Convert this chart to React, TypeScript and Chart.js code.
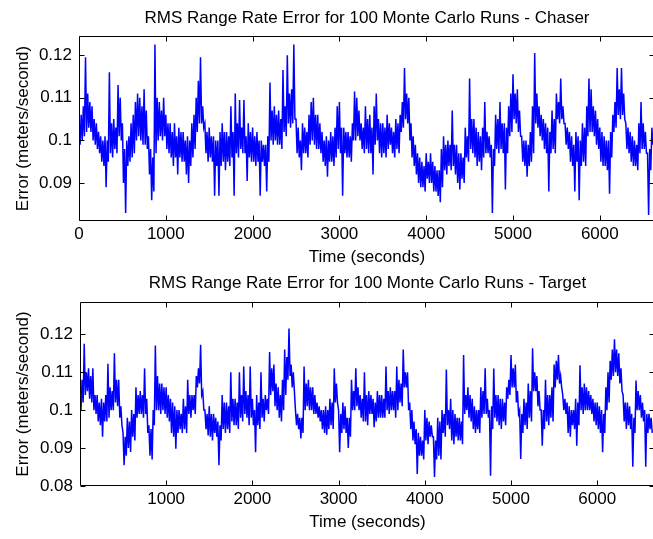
import React, { useEffect, useRef } from "react";
import { Chart, registerables } from "chart.js";

Chart.register(...registerables);

// The traces are dense noise; each 25 s bin is read as the upper and lower
// edge of the blue band (spikes included), starting at t = 0 s.
const BIN_STEP = 25;

const TITLE_TOP = "RMS Range Rate Error for 100 Monte Carlo Runs - Chaser";
const TITLE_BOTTOM = "RMS Range Rate Error for 100 Monte Carlo Runs - Target";
const X_LABEL = "Time (seconds)";
const Y_LABEL = "Error (meters/second)";

const XTICKS_TOP = [0, 1000, 2000, 3000, 4000, 5000, 6000];
const XTICKS_BOTTOM = [1000, 2000, 3000, 4000, 5000, 6000];
const YTICKS_TOP = [0.09, 0.1, 0.11, 0.12];
const YTICKS_BOTTOM = [0.08, 0.09, 0.1, 0.11, 0.12];

const CHASER_HIGH = [
  0.104, 0.106, 0.108, 0.1195, 0.111, 0.109, 0.108, 0.105, 0.104, 0.102,
  0.101, 0.1, 0.101, 0.1, 0.116, 0.104, 0.105, 0.103, 0.113, 0.11,
  0.104, 0.098, 0.1, 0.101, 0.104, 0.106, 0.109, 0.111, 0.11, 0.108,
  0.112, 0.107, 0.101, 0.098, 0.096, 0.1225, 0.11, 0.109, 0.107, 0.11,
  0.106, 0.104, 0.104, 0.102, 0.104, 0.101, 0.103, 0.102, 0.102, 0.1,
  0.101, 0.1, 0.104, 0.106, 0.11, 0.114, 0.1195, 0.108, 0.104, 0.102,
  0.103, 0.101, 0.101, 0.1, 0.1, 0.102, 0.104, 0.102, 0.102, 0.101,
  0.108, 0.102, 0.111, 0.104, 0.1095, 0.103, 0.1095, 0.101, 0.104, 0.102,
  0.103, 0.101, 0.102, 0.1, 0.1, 0.099, 0.099, 0.101, 0.1136, 0.107,
  0.108, 0.106, 0.107, 0.105, 0.1165, 0.108, 0.12, 0.111, 0.112, 0.1225,
  0.105, 0.103, 0.1, 0.104, 0.103, 0.102, 0.106, 0.109, 0.11, 0.106,
  0.106, 0.104, 0.102, 0.1, 0.101, 0.1, 0.102, 0.101, 0.103, 0.108,
  0.109, 0.103, 0.103, 0.102, 0.102, 0.101, 0.104, 0.1115, 0.11, 0.107,
  0.104, 0.103, 0.108, 0.105, 0.106, 0.103, 0.108, 0.111, 0.105, 0.104,
  0.104, 0.103, 0.106, 0.104, 0.103, 0.102, 0.105, 0.104, 0.106, 0.109,
  0.117, 0.111, 0.11, 0.104, 0.101, 0.099, 0.097, 0.096, 0.095, 0.094,
  0.097, 0.095, 0.097, 0.095, 0.094, 0.093, 0.093, 0.098, 0.101, 0.099,
  0.1, 0.099, 0.107, 0.099, 0.099, 0.097, 0.097, 0.096, 0.103, 0.101,
  0.1145, 0.105, 0.105, 0.103, 0.102, 0.101, 0.103, 0.109, 0.102, 0.101,
  0.099, 0.098, 0.106, 0.105, 0.109, 0.104, 0.104, 0.103, 0.108, 0.111,
  0.1155, 0.111, 0.112, 0.107, 0.101, 0.1, 0.1, 0.099, 0.102, 0.108,
  0.1205, 0.111, 0.108, 0.106, 0.105, 0.104, 0.103, 0.102, 0.107, 0.105,
  0.111, 0.109, 0.1145, 0.108, 0.104, 0.103, 0.102, 0.101, 0.099, 0.102,
  0.101, 0.1, 0.104, 0.103, 0.108, 0.1145, 0.112, 0.108, 0.107, 0.105,
  0.103, 0.102, 0.101, 0.1, 0.1, 0.102, 0.106, 0.109, 0.117, 0.112,
  0.117, 0.111, 0.104, 0.103, 0.102, 0.101, 0.1, 0.099, 0.104, 0.109,
  0.104, 0.102, 0.097, 0.098, 0.103, 0.101,
];

const CHASER_LOW = [
  0.099, 0.1, 0.101, 0.102, 0.103, 0.102, 0.1, 0.099, 0.098, 0.097,
  0.095, 0.094, 0.089, 0.095, 0.097, 0.096, 0.098, 0.097, 0.101, 0.1,
  0.09, 0.083, 0.094, 0.095, 0.096, 0.097, 0.1, 0.101, 0.1, 0.099,
  0.099, 0.098, 0.092, 0.086, 0.088, 0.097, 0.1, 0.101, 0.1, 0.101,
  0.098, 0.097, 0.096, 0.094, 0.096, 0.092, 0.096, 0.095, 0.095, 0.092,
  0.09, 0.094, 0.096, 0.098, 0.102, 0.104, 0.104, 0.103, 0.097, 0.095,
  0.096, 0.095, 0.087, 0.094, 0.087, 0.094, 0.095, 0.093, 0.095, 0.094,
  0.096, 0.087, 0.097, 0.096, 0.098, 0.097, 0.097, 0.0905, 0.096, 0.095,
  0.095, 0.094, 0.095, 0.087, 0.095, 0.094, 0.088, 0.095, 0.1, 0.099,
  0.1, 0.099, 0.099, 0.098, 0.102, 0.101, 0.104, 0.103, 0.104, 0.105,
  0.097, 0.096, 0.093, 0.097, 0.097, 0.096, 0.099, 0.1, 0.099, 0.098,
  0.098, 0.097, 0.095, 0.094, 0.0915, 0.095, 0.095, 0.094, 0.096, 0.098,
  0.097, 0.087, 0.097, 0.096, 0.096, 0.095, 0.1, 0.1, 0.101, 0.1,
  0.098, 0.097, 0.098, 0.097, 0.097, 0.092, 0.099, 0.1, 0.097, 0.096,
  0.097, 0.096, 0.098, 0.099, 0.097, 0.096, 0.098, 0.097, 0.102, 0.103,
  0.105, 0.104, 0.1, 0.096, 0.094, 0.092, 0.09, 0.089, 0.089, 0.088,
  0.091, 0.09, 0.09, 0.088, 0.088, 0.087, 0.0855, 0.089, 0.093, 0.092,
  0.094, 0.093, 0.094, 0.092, 0.09, 0.0885, 0.091, 0.09, 0.096, 0.095,
  0.098, 0.097, 0.096, 0.094, 0.095, 0.093, 0.096, 0.097, 0.097, 0.096,
  0.083, 0.094, 0.098, 0.097, 0.098, 0.097, 0.0885, 0.097, 0.101, 0.102,
  0.105, 0.104, 0.102, 0.101, 0.095, 0.094, 0.0915, 0.094, 0.095, 0.097,
  0.104, 0.103, 0.101, 0.1, 0.098, 0.097, 0.088, 0.097, 0.098, 0.097,
  0.105, 0.104, 0.105, 0.104, 0.099, 0.098, 0.095, 0.094, 0.088, 0.095,
  0.086, 0.094, 0.095, 0.094, 0.101, 0.102, 0.102, 0.101, 0.099, 0.098,
  0.095, 0.094, 0.094, 0.093, 0.0875, 0.096, 0.102, 0.103, 0.106, 0.105,
  0.106, 0.105, 0.098, 0.097, 0.095, 0.094, 0.094, 0.093, 0.097, 0.098,
  0.098, 0.097, 0.0825, 0.093, 0.099, 0.098,
];

const TARGET_HIGH = [
  0.104, 0.108, 0.1175, 0.11, 0.111, 0.109, 0.111, 0.104, 0.104, 0.102,
  0.103, 0.102, 0.104, 0.1122, 0.106, 0.105, 0.115, 0.108, 0.108, 0.101,
  0.094, 0.093, 0.098, 0.097, 0.1, 0.099, 0.106, 0.104, 0.105, 0.104,
  0.111, 0.103, 0.096, 0.095, 0.1, 0.117, 0.109, 0.107, 0.107, 0.106,
  0.106, 0.104, 0.103, 0.102, 0.101, 0.1, 0.1, 0.099, 0.103, 0.101,
  0.108, 0.104, 0.104, 0.104, 0.109, 0.111, 0.1172, 0.105, 0.1, 0.099,
  0.101, 0.099, 0.099, 0.098, 0.097, 0.096, 0.104, 0.102, 0.102, 0.101,
  0.11, 0.103, 0.103, 0.102, 0.11, 0.104, 0.1115, 0.105, 0.104, 0.1115,
  0.103, 0.1, 0.104, 0.102, 0.11, 0.103, 0.104, 0.103, 0.1153, 0.111,
  0.112, 0.107, 0.106, 0.104, 0.108, 0.116, 0.114, 0.1215, 0.112, 0.11,
  0.1, 0.099, 0.098, 0.098, 0.1115, 0.107, 0.108, 0.106, 0.106, 0.104,
  0.102, 0.101, 0.1, 0.1, 0.101, 0.1, 0.103, 0.102, 0.111, 0.107,
  0.1, 0.099, 0.102, 0.101, 0.098, 0.098, 0.108, 0.105, 0.111, 0.106,
  0.104, 0.103, 0.11, 0.104, 0.105, 0.104, 0.103, 0.102, 0.105, 0.104,
  0.104, 0.103, 0.1115, 0.105, 0.106, 0.105, 0.105, 0.1115, 0.108, 0.107,
  0.116, 0.11, 0.11, 0.102, 0.1, 0.097, 0.095, 0.094, 0.093, 0.092,
  0.1, 0.098, 0.097, 0.096, 0.093, 0.092, 0.098, 0.097, 0.1, 0.099,
  0.1107, 0.1, 0.103, 0.1, 0.099, 0.098, 0.098, 0.097, 0.1145, 0.104,
  0.106, 0.104, 0.103, 0.101, 0.1, 0.1, 0.106, 0.105, 0.111, 0.103,
  0.1, 0.101, 0.111, 0.104, 0.104, 0.103, 0.103, 0.102, 0.106, 0.108,
  0.1145, 0.111, 0.112, 0.105, 0.1, 0.099, 0.103, 0.102, 0.107, 0.105,
  0.1163, 0.11, 0.109, 0.105, 0.1, 0.1, 0.108, 0.104, 0.104, 0.106,
  0.112, 0.113, 0.1145, 0.109, 0.104, 0.103, 0.102, 0.101, 0.1, 0.1,
  0.103, 0.102, 0.1118, 0.106, 0.107, 0.106, 0.105, 0.104, 0.103, 0.102,
  0.102, 0.101, 0.1, 0.099, 0.106, 0.11, 0.113, 0.116, 0.1187, 0.116,
  0.115, 0.111, 0.104, 0.102, 0.102, 0.101, 0.099, 0.098, 0.1078, 0.105,
  0.104, 0.102, 0.1, 0.099, 0.099, 0.098,
];

const TARGET_LOW = [
  0.1, 0.102, 0.104, 0.105, 0.103, 0.102, 0.1, 0.099, 0.097, 0.096,
  0.093, 0.097, 0.097, 0.098, 0.1, 0.1, 0.102, 0.101, 0.098, 0.096,
  0.0855, 0.088, 0.09, 0.089, 0.093, 0.092, 0.098, 0.099, 0.099, 0.098,
  0.099, 0.094, 0.088, 0.087, 0.096, 0.1, 0.1, 0.099, 0.1, 0.099,
  0.098, 0.097, 0.094, 0.093, 0.0898, 0.094, 0.095, 0.094, 0.095, 0.094,
  0.099, 0.098, 0.1, 0.099, 0.106, 0.107, 0.104, 0.1, 0.095, 0.0933,
  0.093, 0.092, 0.094, 0.093, 0.0855, 0.092, 0.095, 0.094, 0.095, 0.094,
  0.097, 0.096, 0.096, 0.095, 0.098, 0.097, 0.099, 0.098, 0.096, 0.098,
  0.096, 0.0889, 0.096, 0.095, 0.098, 0.097, 0.1, 0.099, 0.104, 0.105,
  0.101, 0.1, 0.098, 0.097, 0.1, 0.104, 0.108, 0.109, 0.106, 0.105,
  0.096, 0.095, 0.0925, 0.094, 0.1, 0.101, 0.1, 0.1, 0.099, 0.099,
  0.098, 0.097, 0.095, 0.094, 0.0935, 0.095, 0.096, 0.095, 0.102, 0.102,
  0.0889, 0.094, 0.095, 0.094, 0.09, 0.093, 0.1, 0.1, 0.101, 0.1,
  0.098, 0.097, 0.097, 0.096, 0.099, 0.099, 0.0955, 0.097, 0.098, 0.098,
  0.098, 0.098, 0.1, 0.099, 0.1, 0.1, 0.098, 0.1, 0.102, 0.101,
  0.106, 0.106, 0.1, 0.095, 0.092, 0.091, 0.0832, 0.088, 0.088, 0.087,
  0.092, 0.091, 0.093, 0.093, 0.0824, 0.087, 0.088, 0.087, 0.094, 0.093,
  0.096, 0.095, 0.092, 0.091, 0.093, 0.092, 0.092, 0.091, 0.099, 0.1,
  0.098, 0.097, 0.095, 0.094, 0.095, 0.094, 0.098, 0.099, 0.099, 0.098,
  0.0827, 0.095, 0.098, 0.097, 0.096, 0.095, 0.097, 0.096, 0.103, 0.104,
  0.106, 0.106, 0.102, 0.099, 0.0871, 0.094, 0.096, 0.095, 0.098, 0.097,
  0.105, 0.105, 0.101, 0.1, 0.0906, 0.095, 0.097, 0.096, 0.098, 0.097,
  0.106, 0.108, 0.107, 0.106, 0.1, 0.099, 0.094, 0.093, 0.096, 0.095,
  0.0906, 0.096, 0.1, 0.099, 0.1, 0.1, 0.1, 0.099, 0.097, 0.096,
  0.095, 0.094, 0.0889, 0.094, 0.1, 0.102, 0.108, 0.109, 0.11, 0.109,
  0.107, 0.105, 0.097, 0.095, 0.096, 0.095, 0.0851, 0.094, 0.1, 0.1,
  0.098, 0.097, 0.0851, 0.094, 0.095, 0.094,
];

const FONT_FAMILY = "'Liberation Sans', Arial, Helvetica, sans-serif";
const FONT_SIZE = 17;

// Each bin contributes its upper edge, then its lower edge half a bin later.
function bandPoints(high: number[], low: number[]) {
  const pts: { x: number; y: number }[] = [];
  high.forEach((h, i) => {
    pts.push({ x: i * BIN_STEP, y: h });
    pts.push({ x: i * BIN_STEP + BIN_STEP / 2, y: low[i] });
  });
  return pts;
}

const matlabAxes = {
  id: "matlabAxes",
  afterDatasetsDraw(chart: any) {
    const { ctx, chartArea: a, scales } = chart;
    const L = Math.round(a.left) + 0.5;
    const R = Math.round(a.right) - 0.5;
    const T = Math.round(a.top) + 0.5;
    const B = Math.round(a.bottom) - 0.5;
    const tl = 5;
    ctx.save();
    ctx.strokeStyle = "#000";
    ctx.lineWidth = 1;
    ctx.beginPath();
    ctx.rect(L, T, R - L, B - T);
    scales.x.ticks.forEach((t: any) => {
      const px = Math.round(scales.x.getPixelForValue(t.value)) + 0.5;
      ctx.moveTo(px, B);
      ctx.lineTo(px, B - tl);
      ctx.moveTo(px, T);
      ctx.lineTo(px, T + tl);
    });
    scales.y.ticks.forEach((t: any) => {
      const py = Math.round(scales.y.getPixelForValue(t.value)) + 0.5;
      ctx.moveTo(L, py);
      ctx.lineTo(L + tl, py);
      ctx.moveTo(R, py);
      ctx.lineTo(R - tl, py);
    });
    ctx.stroke();
    ctx.restore();
  },
};

type PanelProps = {
  high: number[];
  low: number[];
  title: string;
  xTicks: number[];
  yTicks: number[];
  xMin: number;
  xMax: number;
  yMin: number;
  yMax: number;
  height: number;
  areaLeft: number;
  areaTop: number;
  areaBottom: number;
  titleCenter: number;
  xTitleCenter: number;
};

const CANVAS_W = 660;
const AREA_RIGHT = 655;

function Panel(p: PanelProps) {
  const ref = useRef<HTMLCanvasElement | null>(null);
  useEffect(() => {
    if (!ref.current) return;
    const font = { family: FONT_FAMILY, size: FONT_SIZE, lineHeight: 1.2 };
    const lh = FONT_SIZE * 1.2;
    const chart = new Chart(ref.current, {
      type: "line",
      data: {
        datasets: [
          {
            data: bandPoints(p.high, p.low),
            borderColor: "#0000ff",
            borderWidth: 1.5,
            pointRadius: 0,
            tension: 0,
            fill: false,
          },
        ],
      },
      options: {
        responsive: false,
        animation: false,
        devicePixelRatio: 1,
        layout: { padding: { left: 0, right: CANVAS_W - AREA_RIGHT, top: 0, bottom: 0 } },
        plugins: {
          legend: { display: false },
          tooltip: { enabled: false },
          title: {
            display: true,
            fullSize: false,
            text: p.title,
            color: "#000",
            font: { ...font, weight: "normal" },
            padding: {
              top: p.titleCenter - lh / 2,
              bottom: p.areaTop - p.titleCenter - lh / 2,
            },
          },
        },
        scales: {
          x: {
            type: "linear",
            min: p.xMin,
            max: p.xMax,
            grid: { display: false, drawTicks: false },
            border: { display: false },
            ticks: {
              color: "#000",
              font,
              padding: 3,
              maxRotation: 0,
              callback: (v: any) => String(v),
            },
            afterBuildTicks: (s: any) => {
              s.ticks = p.xTicks.map((v) => ({ value: v }));
            },
            afterFit: (s: any) => {
              s.height = p.height - p.areaBottom;
            },
            title: {
              display: true,
              text: X_LABEL,
              color: "#000",
              font,
              padding: { top: 0, bottom: p.height - p.xTitleCenter - lh / 2 },
            },
          },
          y: {
            type: "linear",
            min: p.yMin,
            max: p.yMax,
            grid: { display: false, drawTicks: false },
            border: { display: false },
            ticks: {
              color: "#000",
              font,
              padding: 7,
              callback: (v: any) => String(v),
            },
            afterBuildTicks: (s: any) => {
              s.ticks = p.yTicks.map((v) => ({ value: v }));
            },
            afterFit: (s: any) => {
              s.width = p.areaLeft;
            },
            title: {
              display: true,
              text: Y_LABEL,
              color: "#000",
              font,
              padding: { top: 23 - lh / 2, bottom: 0 },
            },
          },
        },
      },
      plugins: [matlabAxes],
    });
    return () => chart.destroy();
  }, []);
  return (
    <canvas
      ref={ref}
      width={CANVAS_W}
      height={p.height}
      style={{ display: "block", width: CANVAS_W, height: p.height }}
    />
  );
}

export default function App() {
  return (
    <div
      style={{
        position: "absolute",
        left: 0,
        top: 0,
        width: 653,
        height: 539,
        overflow: "hidden",
        background: "#fff",
      }}
    >
      <div style={{ position: "absolute", left: 0, top: 0 }}>
        <Panel
          high={CHASER_HIGH}
          low={CHASER_LOW}
          title={TITLE_TOP}
          xTicks={XTICKS_TOP}
          yTicks={YTICKS_TOP}
          xMin={0}
          xMax={6636}
          yMin={0.0811}
          yMax={0.1245}
          height={270}
          areaLeft={79}
          areaTop={36}
          areaBottom={221}
          titleCenter={18}
          xTitleCenter={257}
        />
      </div>
      <div style={{ position: "absolute", left: 0, top: 270 }}>
        <Panel
          high={TARGET_HIGH}
          low={TARGET_LOW}
          title={TITLE_BOTTOM}
          xTicks={XTICKS_BOTTOM}
          yTicks={YTICKS_BOTTOM}
          xMin={1}
          xMax={6670}
          yMin={0.08}
          yMax={0.1285}
          height={269}
          areaLeft={80}
          areaTop={32}
          areaBottom={216}
          titleCenter={13}
          xTitleCenter={252}
        />
      </div>
    </div>
  );
}
